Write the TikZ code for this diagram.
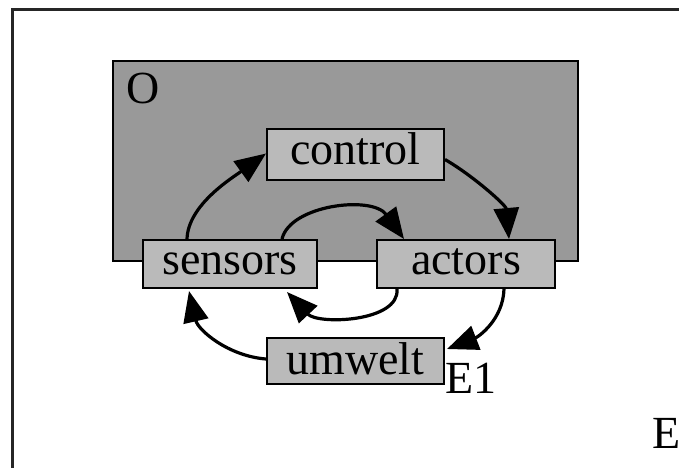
\documentclass[tikz,border=0pt]{standalone}
\usepackage{fontspec}
\setmainfont{Liberation Serif}
\usetikzlibrary{arrows.meta,calc}
\definecolor{orgfill}{gray}{0.6}
\definecolor{boxfill}{gray}{0.73}
\tikzset{
  unitbox/.style={draw=black, line width=2pt, fill=boxfill, inner sep=0pt,
    text height=30pt, text depth=10pt,
    font=\fontsize{46}{50}\selectfont},
  flow/.style={line width=3.2pt, -{Triangle[length=31pt,width=25pt]}},
  tag/.style={anchor=base west, inner sep=0pt, font=\fontsize{46}{50}\selectfont}
}
\begin{document}
\begin{tikzpicture}[x=1pt,y=-1pt]
  \useasboundingbox (0,0) rectangle (679,467);
  \begin{scope}
    \clip (0,0) rectangle (679,467);
    % environment frame E
    \draw[line width=3pt, draw=black!85] (12,9) rectangle (700,469.3);
  \end{scope}
  % organism O
  \draw[line width=2pt, fill=orgfill] (113,61) rectangle (578,261);
  \node[tag] (lblO) at (126,103) {O};
  \node[tag] (lblE) at (652,448) {E};
  % units
  \node[unitbox, minimum width=177pt, minimum height=51pt] (control) at (355.5,154.5) {control};
  \node[unitbox, minimum width=174pt, minimum height=48pt] (sensors) at (230,264) {sensors};
  \node[unitbox, minimum width=178pt, minimum height=48pt] (actors) at (466,264) {actors};
  \node[unitbox, minimum width=177pt, minimum height=46pt, text height=33pt, text depth=7pt] (umwelt) at (355.5,361) {umwelt};
  \node[tag] (lblE1) at (445,393) {E1};
  % connectors
  \draw[flow] ($(sensors.north west)+(45,0)$) .. controls (188,205) and (232,178) .. ($(control.west)+(0,-1)$);
  \draw[flow] ($(control.east)+(0,5)$) .. controls (472,175) and (506,205) .. ($(actors.north east)+(-47,0)$);
  \draw[flow] ($(sensors.north west)+(140,0)$) .. controls (290,205) and (372,195) .. ($(actors.north west)+(28,0)$);
  \draw[flow] ($(actors.south west)+(21,0)$) .. controls (400,322) and (318,325) .. ($(sensors.south west)+(145,3)$);
  \draw[flow] ($(actors.south east)+(-52,0)$) .. controls (503,320) and (478,337) .. ($(umwelt.east)+(2,-12)$);
  \draw[flow] ($(umwelt.west)+(0,-2)$) .. controls (228,356) and (198,330) .. ($(sensors.south west)+(47,2)$);
\end{tikzpicture}
\end{document}
